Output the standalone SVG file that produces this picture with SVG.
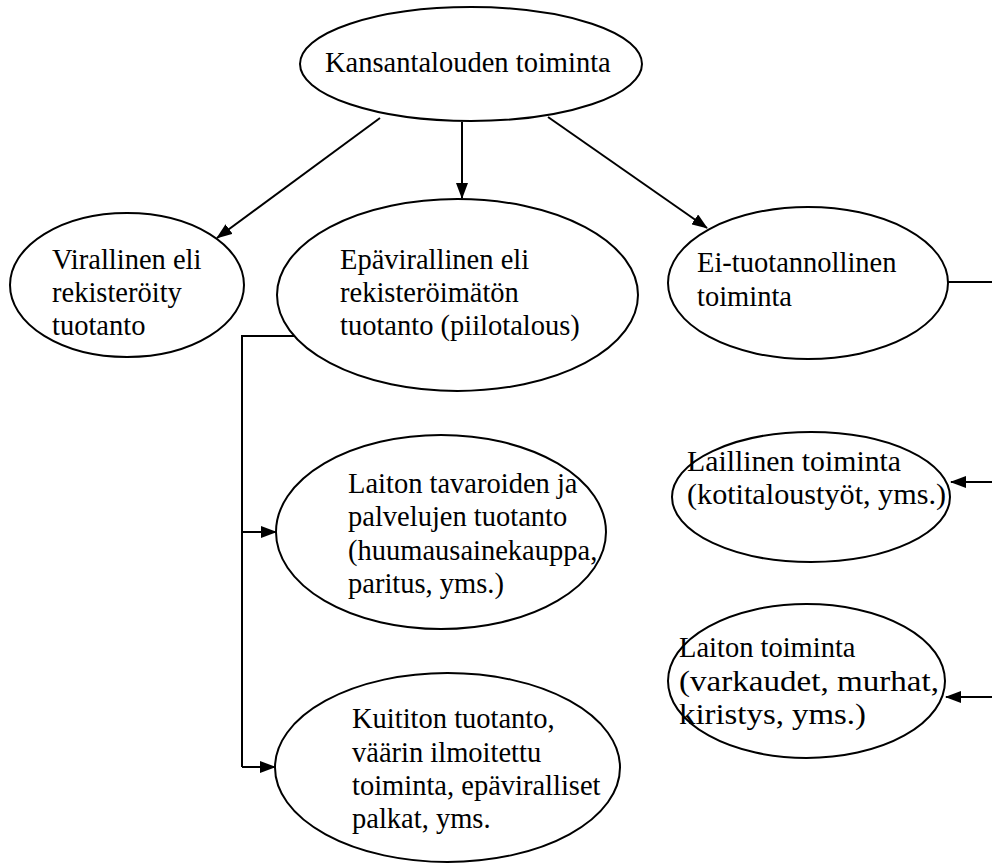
<svg xmlns="http://www.w3.org/2000/svg" width="992" height="865" viewBox="0 0 992 865">
<style>
.n{fill:#fff;stroke:#000;stroke-width:2}
.t{font-family:"Liberation Serif","Times New Roman",serif;font-size:28.5px;fill:#000}
.c{fill:none;stroke:#000;stroke-width:2}
</style>
<defs>
<marker id="ah" markerWidth="16" markerHeight="12" refX="15" refY="6" orient="auto" markerUnits="userSpaceOnUse">
<path d="M0,0 L16,6 L0,12 Z" fill="#000"/>
</marker>
</defs>
<rect width="992" height="865" fill="#fff"/>
<g id="connectors">
<line class="c" x1="380" y1="118" x2="217" y2="238" marker-end="url(#ah)"/>
<line class="c" x1="462" y1="122" x2="462" y2="198" marker-end="url(#ah)"/>
<line class="c" x1="548" y1="117" x2="707" y2="228" marker-end="url(#ah)"/>
<line class="c" x1="948" y1="282" x2="992" y2="282"/>
<line class="c" x1="992" y1="482" x2="951" y2="482" marker-end="url(#ah)"/>
<line class="c" x1="992" y1="697" x2="946" y2="697" marker-end="url(#ah)"/>
<polyline class="c" points="294,336 242,336 242,767"/>
<line class="c" x1="242" y1="532" x2="276" y2="532" marker-end="url(#ah)"/>
<line class="c" x1="242" y1="767" x2="275" y2="767" marker-end="url(#ah)"/>
</g>
<g id="n-kansantalous">
<ellipse class="n" cx="471" cy="64" rx="171" ry="57"/>
<text class="t" x="325" y="72">Kansantalouden toiminta</text>
</g>
<g id="n-virallinen">
<ellipse class="n" cx="127" cy="285" rx="117" ry="72"/>
<text class="t" x="52" y="269">Virallinen eli</text>
<text class="t" x="52" y="302">rekisteröity</text>
<text class="t" x="52" y="335">tuotanto</text>
</g>
<g id="n-epavirallinen">
<ellipse class="n" cx="457.5" cy="295" rx="180.5" ry="96"/>
<text class="t" x="340" y="269">Epävirallinen eli</text>
<text class="t" x="340" y="302">rekisteröimätön</text>
<text class="t" x="340" y="335">tuotanto (piilotalous)</text>
</g>
<g id="n-eituotannollinen">
<ellipse class="n" cx="808" cy="283" rx="140" ry="76"/>
<text class="t" x="697" y="272">Ei-tuotannollinen</text>
<text class="t" x="697" y="306">toiminta</text>
</g>
<g id="n-laitontavarat">
<ellipse class="n" cx="441" cy="532" rx="165" ry="97"/>
<text class="t" x="348" y="493">Laiton tavaroiden ja</text>
<text class="t" x="348" y="526">palvelujen tuotanto</text>
<text class="t" x="348" y="560">(huumausainekauppa,</text>
<text class="t" x="348" y="593">paritus, yms.)</text>
</g>
<g id="n-kuititon">
<ellipse class="n" cx="447.5" cy="767.5" rx="172.5" ry="94.5"/>
<text class="t" x="352" y="728">Kuititon tuotanto,</text>
<text class="t" x="352" y="762">väärin ilmoitettu</text>
<text class="t" x="352" y="795">toiminta, epäviralliset</text>
<text class="t" x="352" y="828">palkat, yms.</text>
</g>
<g id="n-laillinen">
<ellipse class="n" cx="811" cy="497" rx="139" ry="65"/>
<text class="t" x="687" y="471" textLength="214" lengthAdjust="spacingAndGlyphs">Laillinen toiminta</text>
<text class="t" x="687" y="504" textLength="259" lengthAdjust="spacingAndGlyphs">(kotitaloustyöt, yms.)</text>
</g>
<g id="n-laitontoiminta">
<ellipse class="n" cx="806.5" cy="681" rx="138.5" ry="77"/>
<text class="t" x="679" y="657">Laiton toiminta</text>
<text class="t" x="679" y="691" textLength="260" lengthAdjust="spacingAndGlyphs">(varkaudet, murhat,</text>
<text class="t" x="679" y="724" textLength="187" lengthAdjust="spacingAndGlyphs">kiristys, yms.)</text>
</g>
</svg>
